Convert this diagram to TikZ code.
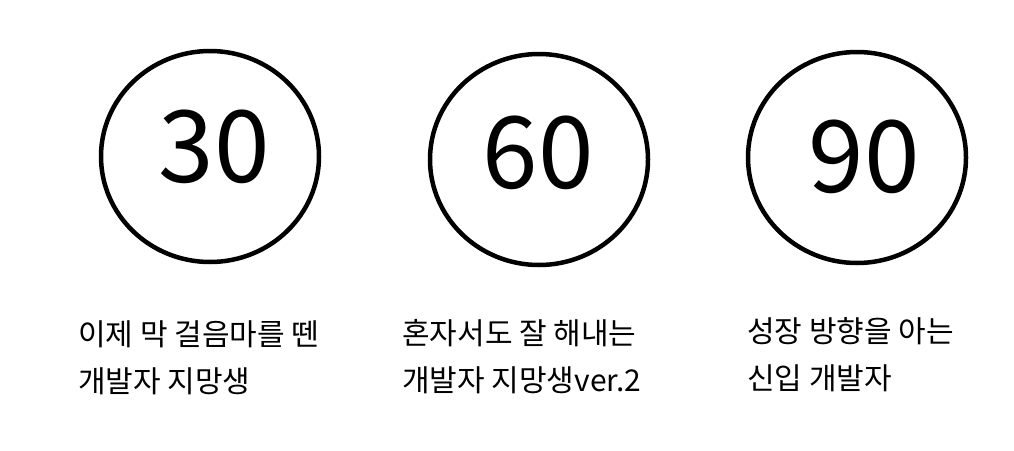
\documentclass[tikz,border=0pt]{standalone}
\usepackage{fontspec}
\setmainfont{Noto Sans CJK KR}
\usetikzlibrary{shapes.geometric}

\begin{document}
\begin{tikzpicture}[
    x=1pt, y=-1pt,
    ring/.style={draw,ellipse,line width=4.5pt,minimum width=218pt,minimum height=211pt,inner sep=0pt},
    numtxt/.style={anchor=base,inner sep=0pt,font=\fontsize{100}{110}\selectfont},
    caption/.style={anchor=base west,inner sep=0pt,font=\fontsize{30}{36}\selectfont},
  ]
  \useasboundingbox (0,0) rectangle (1014,450);

  % --- circles ---
  \node[ring] (c30) at (210,156.5) {};
  \node[ring] (c60) at (539,159.5) {};
  \node[ring] (c90) at (857,157.5) {};

  % --- numbers ---
  \node[numtxt] (n30) at (214,182) {30};
  \node[numtxt] (n60) at (538,188) {60};
  \node[numtxt] (n90) at (864,192) {90};

  % --- captions ---
  \node[caption] (t30a) at (78,345)  {이제 막 걸음마를 뗀};
  \node[caption] (t30b) at (78,392)  {개발자 지망생};
  \node[caption] (t60a) at (402,344) {혼자서도 잘 해내는};
  \node[caption] (t60b) at (402,391) {개발자 지망생ver.2};
  \node[caption] (t90a) at (747,342) {성장 방향을 아는};
  \node[caption] (t90b) at (747,389) {신입 개발자};

\end{tikzpicture}
\end{document}
